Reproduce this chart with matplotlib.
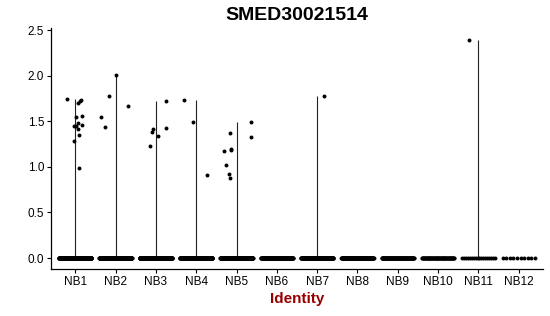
import matplotlib
matplotlib.use('Agg')
import matplotlib.pyplot as plt
import numpy as np

plt.rcParams['font.family'] = ['Liberation Sans', 'DejaVu Sans']

groups = ['NB1', 'NB2', 'NB3', 'NB4', 'NB5', 'NB6', 'NB7', 'NB8', 'NB9', 'NB10', 'NB11', 'NB12']
# cells with zero expression per group
n_zero = [400, 350, 380, 360, 330, 150, 220, 170, 110, 70, 18, 10]
# non-zero expression values per group
expr = [
    [1.74, 1.55, 1.56, 1.45, 1.45, 1.48, 1.46, 1.41, 1.35, 1.28, 0.99, 1.70, 1.72, 1.73],
    [1.55, 1.44, 1.78, 1.67, 2.01],
    [1.23, 1.38, 1.42, 1.34, 1.72, 1.43],
    [1.73, 1.49, 0.91],
    [1.17, 1.02, 0.92, 0.88, 1.37, 1.20, 1.18, 1.49, 1.33],
    [],
    [1.78],
    [],
    [],
    [],
    [2.39],
    [],
]
# horizontal jitter of the non-zero points
jitter = [
    [-0.21, 0.02, 0.18, -0.04, 0.02, 0.08, 0.18, 0.08, 0.10, -0.03, 0.10, 0.08, 0.12, 0.14],
    [-0.35, -0.27, -0.16, 0.32, 0.01],
    [-0.15, -0.09, -0.07, 0.05, 0.25, 0.24],
    [-0.29, -0.07, 0.27],
    [-0.31, -0.26, -0.18, -0.17, -0.15, -0.13, -0.13, 0.37, 0.37],
    [], [0.16], [], [], [], [-0.24], [],
]

fig = plt.figure(figsize=(5.5, 3.16), dpi=100)
ax = fig.add_axes([51/550, 47/316, 492/550, 240.8/316])

for i, g in enumerate(groups):
    x = i + 1
    vals = expr[i]
    if len(vals) > 0:
        # violin collapses to a thin line from 0 to the max
        ax.vlines(x, 0, max(vals), color='#222222', lw=0.8, zorder=1)
    zx = x + np.linspace(-0.4, 0.4, n_zero[i])
    ax.scatter(zx, np.zeros(n_zero[i]), s=8, color='black', lw=0, zorder=2)
    if len(vals) > 0:
        ax.scatter(x + np.array(jitter[i]), vals, s=8, color='black', lw=0, zorder=2)

ax.set_xlim(0.4, 12.6)
ax.set_ylim(-0.12, 2.52)
ax.set_xticks(range(1, len(groups) + 1))
ax.set_xticklabels(groups)
ax.set_yticks([0, 0.5, 1.0, 1.5, 2.0, 2.5])
ax.set_yticklabels(['0.0', '0.5', '1.0', '1.5', '2.0', '2.5'])
ax.tick_params(labelsize=8.5, length=3, width=0.8, pad=2, colors='black')
for s in ['top', 'right']:
    ax.spines[s].set_visible(False)
for s in ['left', 'bottom']:
    ax.spines[s].set_linewidth(0.9)

fig.text(297/550, 1 - 15/316, 'SMED30021514', ha='center', va='center',
         fontsize=14, fontweight='bold')
fig.text(297/550, 1 - 299/316, 'Identity', ha='center', va='center',
         fontsize=11, fontweight='bold', color='#990000')

fig.savefig('out.png', dpi=100)
